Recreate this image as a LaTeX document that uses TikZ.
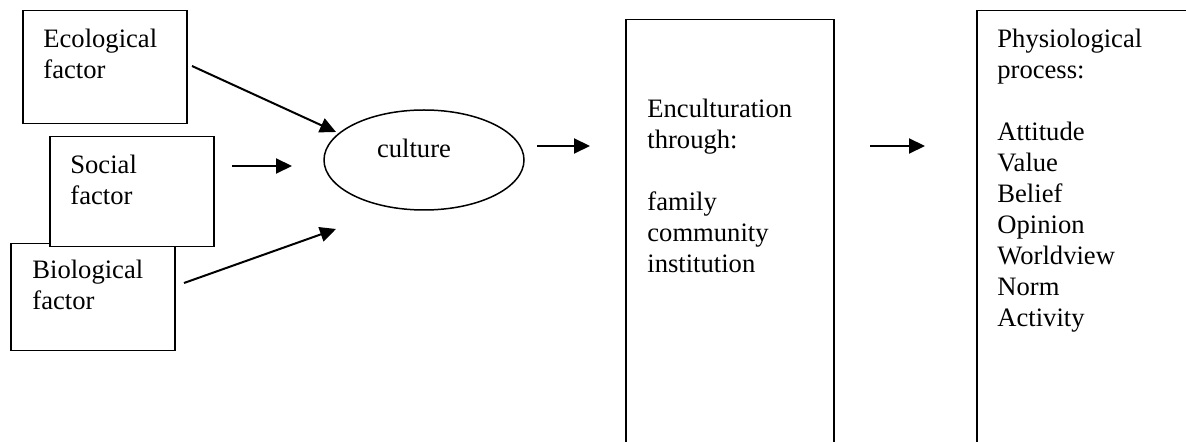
\documentclass[tikz,border=0pt]{standalone}
\usepackage{fontspec}
\setmainfont{Liberation Serif}
\usetikzlibrary{shapes.geometric,arrows.meta,calc}

\tikzset{
  box/.style={draw, line width=0.75pt, fill=white, rectangle, anchor=north west, inner sep=0pt},
  boxtext/.style={anchor=north west, align=left, inner sep=0pt, font=\fontsize{13.3}{15.5}\selectfont},
  link/.style={line width=1pt, -{Triangle[length=8pt,width=7.5pt]}},
}

\begin{document}
\begin{tikzpicture}[x=0.5pt,y=-0.5pt]
        \clip (0,0) rectangle (1186,442);
        \fill[white] (0,0) rectangle (1186,442);
        % factor boxes (social box lies over the biological one)
        \node[box, minimum width=82pt, minimum height=56.5pt] (ecobox) at (22,10) {};
        \node[box, minimum width=82pt, minimum height=53.5pt] (biobox) at (10,243) {};
        \node[box, minimum width=82pt, minimum height=55pt] (socbox) at (49,136) {};
        \node[boxtext] (ecotext) at ($(ecobox.north west)+(21,19)$) {Ecological\\factor};
        \node[boxtext] (soctext) at ($(socbox.north west)+(21,19)$) {Social\\factor};
        \node[boxtext] (biotext) at ($(biobox.north west)+(22,17)$) {Biological\\factor};
        % culture
        \node[draw, ellipse, line width=0.75pt, minimum width=100pt, minimum height=50pt, inner sep=0pt] (cult) at (424,160) {};
        \node[anchor=base, inner sep=0pt, font=\fontsize{13.3}{15.5}\selectfont] (culttext) at ($(cult.center)+(-10,-2)$) {culture};
        % the two tall boxes, open at the bottom
        \node[box, minimum width=104pt, minimum height=250pt] (encbox) at (625,19) {};
        \node[box, minimum width=150pt, minimum height=250pt] (physbox) at (976,10) {};
        \node[boxtext] (enctext) at ($(encbox.north west)+(22,80)$) {Enculturation\\through:\\[15.5pt]family\\community\\institution};
        \node[boxtext] (phystext) at ($(physbox.north west)+(21,19)$) {Physiological\\process:\\[15.5pt]Attitude\\Value\\Belief\\Opinion\\Worldview\\Norm\\Activity};
        % arrow ends
        \coordinate (eco-o) at (192,66);
        \coordinate (soc-o) at (232,166);
        \coordinate (bio-o) at (184,283);
        \coordinate (cult-i1) at (336,132);
        \coordinate (cult-i2) at (292,166);
        \coordinate (cult-i3) at (336,229);
        \coordinate (cult-o) at (537,146);
        \coordinate (enc-i) at (590,146);
        \coordinate (enc-o) at (870,146);
        \coordinate (phys-i) at (925,146);
        \draw[link] (eco-o) -- (cult-i1);
        \draw[link] (soc-o) -- (cult-i2);
        \draw[link] (bio-o) -- (cult-i3);
        \draw[link] (cult-o) -- (enc-i);
        \draw[link] (enc-o) -- (phys-i);
\end{tikzpicture}
\end{document}
